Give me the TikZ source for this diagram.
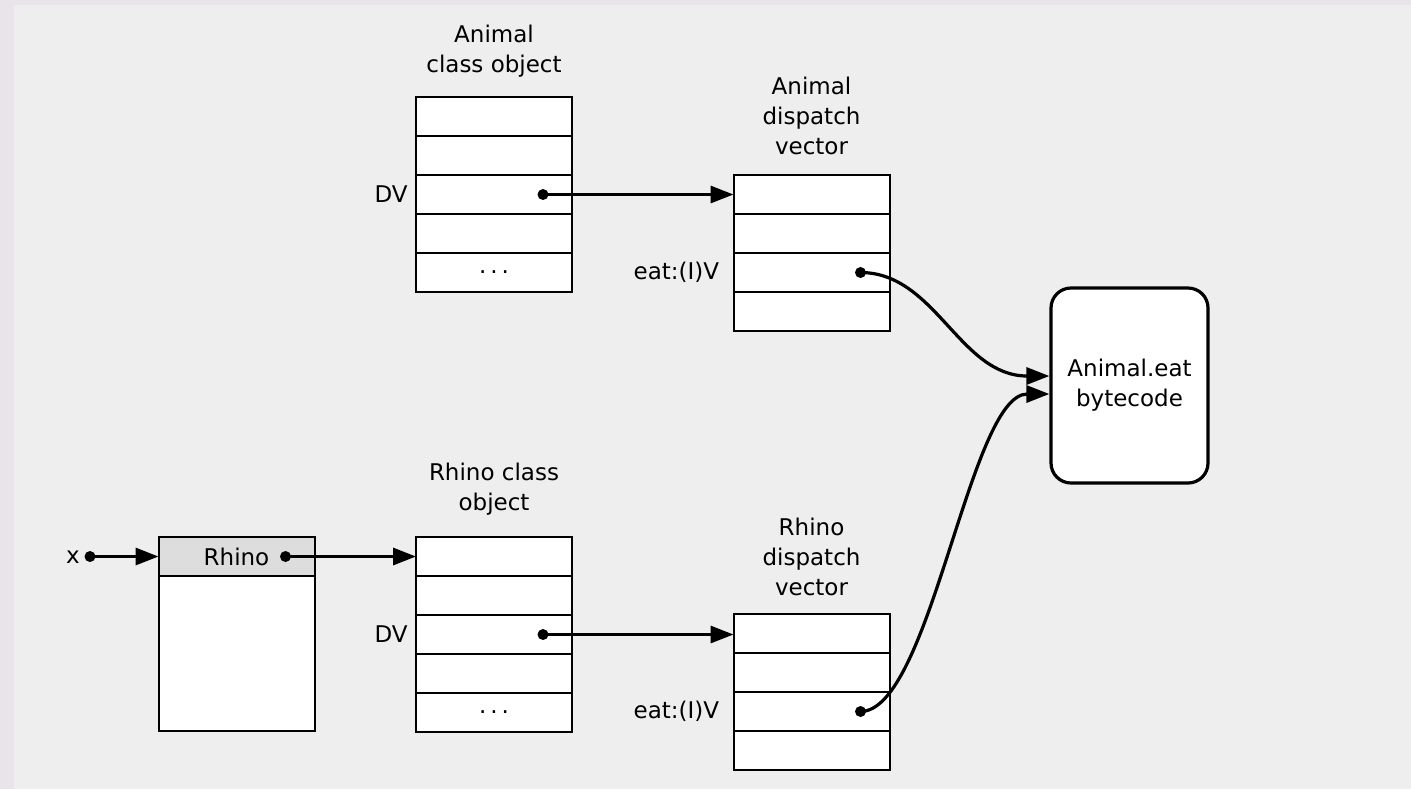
\documentclass[tikz,border=0pt]{standalone}
\usepackage{fontspec}
\setmainfont{DejaVu Sans}
\usetikzlibrary{positioning,arrows.meta}

\definecolor{frameback}{HTML}{E8E4EA}
\definecolor{paneback}{HTML}{EEEEEE}
\definecolor{headfill}{HTML}{DDDDDD}

\newcommand{\moredots}{.\hspace{2pt}.\hspace{2pt}.}

\tikzset{
	cell/.style={draw, fill=white, line width=1pt, minimum width=78pt, minimum height=19.5pt, inner sep=0pt, outer sep=0pt, on grid},
	lbl/.style={inner sep=0pt},
	title/.style={align=center, inner sep=0pt},
	dot/.style={circle, fill=black, inner sep=0pt, minimum size=5.5pt},
	ptr/.style={-{Triangle[length=11.5pt,width=8.5pt]}, line width=1.6pt},
	codebox/.style={draw, fill=white, line width=1.6pt, rounded corners=10pt, minimum width=78.5pt, minimum height=97.5pt, align=center}
}

\begin{document}
\begin{tikzpicture}[x=0.5pt, y=-0.5pt, node distance=19.5pt, font=\fontsize{11.5}{15}\selectfont]
		\fill[frameback] (0,0) rectangle (1411,789);
		\fill[paneback] (14,5) rectangle (1411,789);
		\useasboundingbox (0,0) rectangle (1411,789);

		% Animal class object
		\node[cell] (aco1) at (494,116.5) {};
		\node[cell] (aco2) [below=of aco1] {};
		\node[cell] (aco3) [below=of aco2] {};
		\node[cell] (aco4) [below=of aco3] {};
		\node[cell] (aco5) [below=of aco4] {\moredots};
		\node[title] (aconame) at (494,51) {Animal\\class object};
		\node[lbl] (acodv) [left=4pt of aco3] {DV};

		% Animal dispatch vector
		\node[cell] (adv1) at (811.5,194.5) {};
		\node[cell] (adv2) [below=of adv1] {};
		\node[cell] (adv3) [below=of adv2] {};
		\node[cell] (adv4) [below=of adv3] {};
		\node[title] (advname) at (811.5,116) {Animal\\dispatch\\vector};
		\node[lbl] (adveat) [left=7pt of adv3] {eat:(I)V};

		% Rhino object
		\node[cell, fill=headfill] (rob1) at (236.5,556.5) {Rhino};
		\node[cell, minimum height=77.5pt, anchor=north] (rob2) at (rob1.south) {};
		\node[lbl] (xvar) at (73,557) {x};

		% Rhino class object
		\node[cell] (rco1) at (494,556.5) {};
		\node[cell] (rco2) [below=of rco1] {};
		\node[cell] (rco3) [below=of rco2] {};
		\node[cell] (rco4) [below=of rco3] {};
		\node[cell] (rco5) [below=of rco4] {\moredots};
		\node[title] (rconame) at (494,489.5) {Rhino class\\object};
		\node[lbl] (rcodv) [left=4pt of rco3] {DV};

		% Rhino dispatch vector
		\node[cell] (rdv1) at (811.5,633.5) {};
		\node[cell] (rdv2) [below=of rdv1] {};
		\node[cell] (rdv3) [below=of rdv2] {};
		\node[cell] (rdv4) [below=of rdv3] {};
		\node[title] (rdvname) at (811.5,556.5) {Rhino\\dispatch\\vector};
		\node[lbl] (rdveat) [left=7pt of rdv3] {eat:(I)V};

		% bytecode
		\node[codebox] (code) at (1129.5,385.5) {Animal.eat\\bytecode};

		% pointers
		\node[dot] (xptr) at (90,556.5) {};
		\node[dot] (robptr) at ([xshift=-14.5pt]rob1.east) {};
		\node[dot] (acoptr) at ([xshift=-14.5pt]aco3.east) {};
		\node[dot] (rcoptr) at ([xshift=-14.5pt]rco3.east) {};
		\node[dot] (advptr) at ([xshift=-14.5pt]adv3.east) {};
		\node[dot] (rdvptr) at ([xshift=-14.5pt]rdv3.east) {};
		\coordinate (codein1) at ([yshift=4.75pt]code.west);
		\coordinate (codein2) at ([yshift=-4.25pt]code.west);

		\draw[ptr] (xptr.center) -- (rob1.west);
		\draw[ptr] (robptr.center) -- (rco1.west);
		\draw[ptr] (acoptr.center) -- (adv1.west);
		\draw[ptr] (rcoptr.center) -- (rcoptr -| rdv1.west);
		\draw[ptr] (advptr.center) .. controls +(75,0) and +(-90,0) .. (codein1);
		\draw[ptr] (rdvptr.center) .. controls +(70,0) and +(-80,0) .. (codein2);
	\end{tikzpicture}
\end{document}
